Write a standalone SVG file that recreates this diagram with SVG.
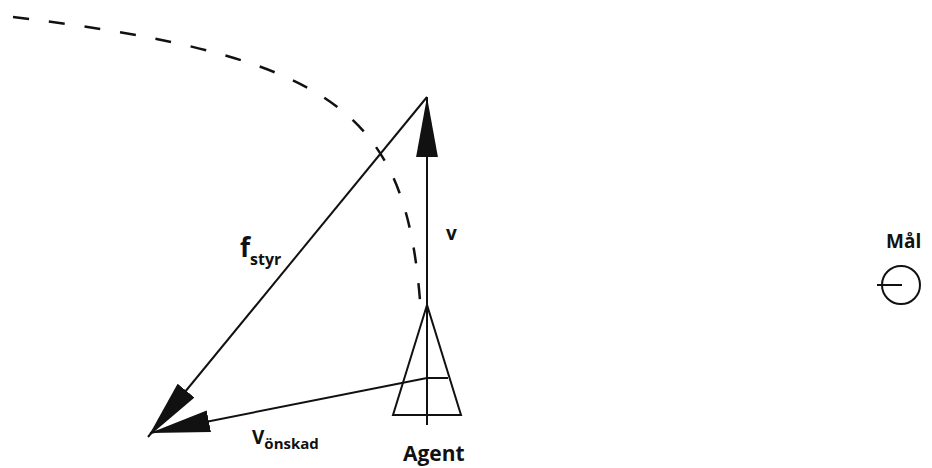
<svg xmlns="http://www.w3.org/2000/svg" width="932" height="468" viewBox="0 0 932 468">
<style>
.ln{stroke:#111;stroke-width:2;fill:none}
.dash{stroke:#111;stroke-width:2.5;fill:none;stroke-dasharray:16 20}
.lbl{font-family:"Open Sans","Liberation Sans",sans-serif;font-weight:bold;fill:#111}
</style>
<defs>
<marker id="ah" markerUnits="userSpaceOnUse" markerWidth="60" markerHeight="24" viewBox="0 0 55 20" refX="55" refY="10" orient="auto">
<path d="M0,0 L55,10 L0,20 Z" fill="#111"/>
</marker>
</defs>
<g id="path-curve">
<path class="dash" d="M13,17 C343,57 408,115 421,314"/>
</g>
<g id="connectors">
<line class="ln" x1="427" y1="425" x2="427" y2="97" marker-end="url(#ah)"/>
<line class="ln" x1="427" y1="97" x2="148" y2="437" marker-end="url(#ah)"/>
<line class="ln" x1="427" y1="378" x2="150" y2="433" marker-end="url(#ah)"/>
</g>
<g id="agent">
<polygon class="ln" points="427,305 393,415 461,415"/>
<line class="ln" x1="427" y1="378" x2="448" y2="378"/>
<text class="lbl" x="403" y="461" font-size="21">Agent</text>
</g>
<g id="labels">
<text class="lbl" x="446" y="240" font-size="19">v</text>
<text class="lbl" x="240" y="257" font-size="26">f<tspan font-size="16" dy="8">styr</tspan></text>
<text class="lbl" x="252" y="444" font-size="19">V<tspan font-size="15" dy="5">önskad</tspan></text>
</g>
<g id="mal">
<text class="lbl" x="886" y="248" font-size="19">Mål</text>
<circle class="ln" cx="901" cy="285" r="19" stroke-width="2.5"/>
<line class="ln" x1="877" y1="285" x2="902" y2="285" stroke-width="2.5"/>
</g>
</svg>
